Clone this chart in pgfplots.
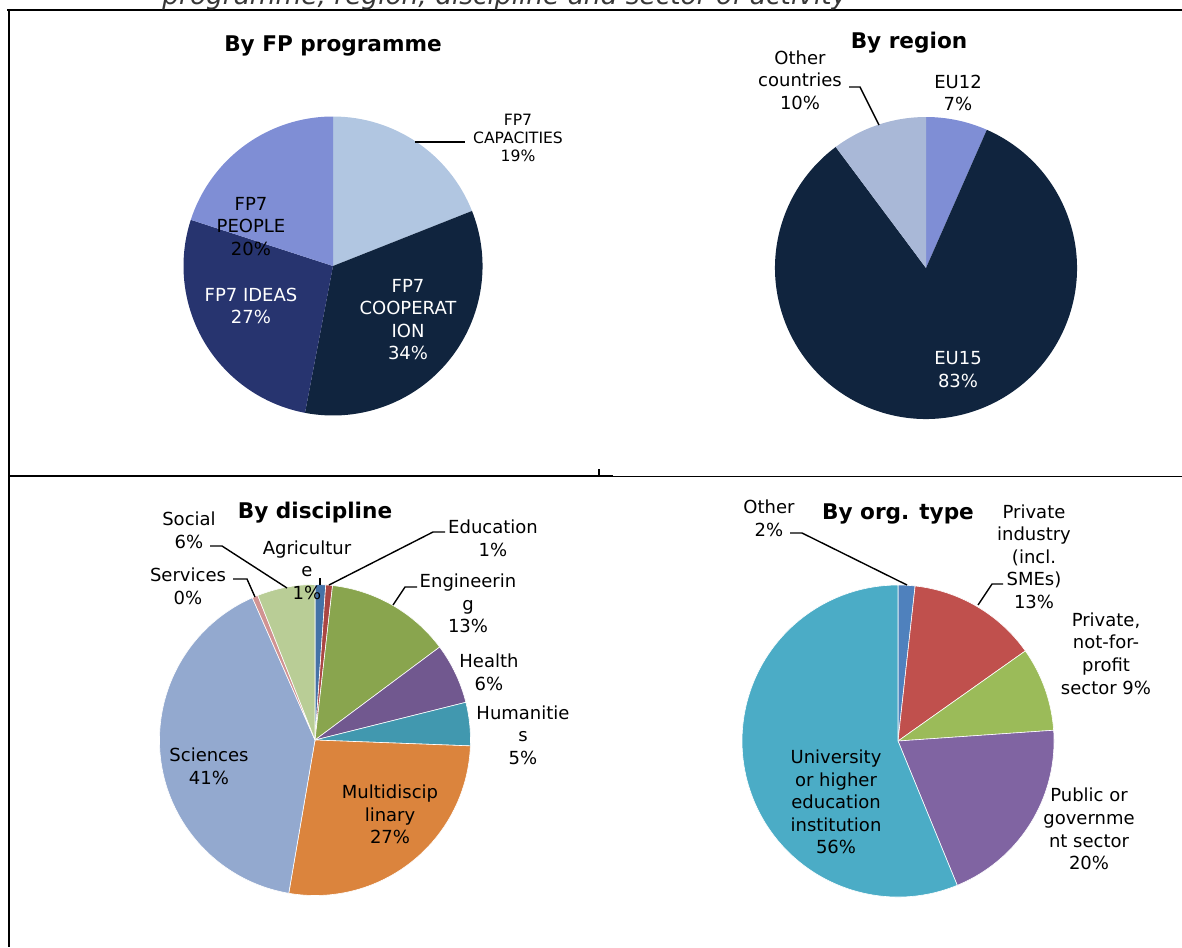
\documentclass[border=0pt]{standalone}
\usepackage{fontspec}
\setmainfont{DejaVu Sans}
\usepackage{pgfplots}
\pgfplotsset{compat=1.18}

% slice colours
\definecolor{capc}{HTML}{B1C6E1}
\definecolor{coopc}{HTML}{10243E}
\definecolor{ideac}{HTML}{27346F}
\definecolor{peopc}{HTML}{7F8ED5}
\definecolor{othc}{HTML}{A9B8D7}
\definecolor{agric}{HTML}{4572A7}
\definecolor{educ}{HTML}{AA4643}
\definecolor{engc}{HTML}{89A54E}
\definecolor{healc}{HTML}{71588F}
\definecolor{humc}{HTML}{4198AF}
\definecolor{multc}{HTML}{DB843D}
\definecolor{scic}{HTML}{93A9CF}
\definecolor{servc}{HTML}{D19392}
\definecolor{socc}{HTML}{B9CD96}
\definecolor{o1}{HTML}{4F81BD}
\definecolor{o2}{HTML}{C0504D}
\definecolor{o3}{HTML}{9BBB59}
\definecolor{o4}{HTML}{8064A2}
\definecolor{o5}{HTML}{4BACC6}

\pgfplotsset{pieaxis/.style={hide axis, scale only axis, anchor=center,
  xmin=-1, xmax=1, ymin=-1, ymax=1, clip=false}}

% #1 extra style, #2 radius in pt, #3 list of percent/colour, clockwise from 12 o'clock
\newcommand\pieslices[3][draw=none]{%
  \gdef\cum{0}%
  \foreach \v/\c in {#3}{%
    \pgfmathsetmacro\a{90-3.6*\cum}%
    \pgfmathsetmacro\b{90-3.6*(\cum+\v)}%
    \pgfmathsetmacro\xa{cos(\a)}%
    \pgfmathsetmacro\ya{sin(\a)}%
    \edef\tmp{\noexpand\addplot[fill=\c,#1] coordinates {(0,0) (\xa,\ya)}
      arc[start angle=\a,end angle=\b,radius=#2pt] -- cycle;}%
    \tmp
    \pgfmathsetmacro\n{\cum+\v}\xdef\cum{\n}%
  }%
}

\tikzset{lab/.style={align=center, inner sep=0pt, font=\fontsize{9}{11.3}\selectfont},
  ttl/.style={inner sep=0pt, font=\fontsize{10.8}{13}\selectfont\bfseries},
  lead/.style={line width=0.7pt}}

\begin{document}
\begin{tikzpicture}[x=0.5pt,y=-0.5pt]
\useasboundingbox (0,0) rectangle (1182,947);

% By FP programme
\begin{axis}[pieaxis, at={(166.5pt,-133pt)}, width=149.5pt, height=149.5pt]
\pieslices{74.75}{19/capc, 34/coopc, 27/ideac, 20/peopc}
\end{axis}

% By region
\begin{axis}[pieaxis, at={(463pt,-134pt)}, width=151pt, height=151pt]
\pieslices{75.5}{6.6/peopc, 83.2/coopc, 10.2/othc}
\end{axis}

% By discipline
\begin{axis}[pieaxis, at={(157.5pt,-370pt)}, width=155.5pt, height=155.5pt]
\pieslices[draw=white, line width=0.3pt]{77.75}{1.1/agric, 0.7/educ, 13/engc, 6.3/healc,
  4.5/humc, 27.1/multc, 40.7/scic, 0.6/servc, 6/socc}
\end{axis}

% By org. type
\begin{axis}[pieaxis, at={(449pt,-370.5pt)}, width=156pt, height=156pt]
\pieslices[draw=white, line width=0.3pt]{78}{1.75/o1, 13.45/o2, 8.7/o3, 19.9/o4, 56.2/o5}
\end{axis}

% titles
\node[ttl] at (333,46) {By FP programme};
\node[ttl] at (909,43) {By region};
\node[ttl] at (315,513) {By discipline};
\node[ttl] at (898,514) {By org. type};

% FP programme labels
\node[lab, font=\fontsize{7.8}{9}\selectfont] at (518,138) {FP7\\CAPACITIES\\19\%};
\node[lab] at (251,226.5) {FP7\\PEOPLE\\20\%};
\node[lab, text=white] at (251,306) {FP7 IDEAS\\27\%};
\node[lab, text=white] at (408,319.5) {FP7\\COOPERAT\\ION\\34\%};
\draw[lead] (415,142) -- (465,142);

% region labels
\node[lab] at (800,80) {Other\\countries\\10\%};
\node[lab] at (958,93) {EU12\\7\%};
\node[lab, text=white] at (958,369.5) {EU15\\83\%};
\draw[lead] (849,87) -- (860,87) -- (879,125);

% discipline labels
\node[lab] at (189,530.5) {Social\\6\%};
\node[lab] at (307,570) {Agricultur\\e\\1\%};
\node[lab] at (188,586) {Services\\0\%};
\node[lab] at (493,538) {Education\\1\%};
\node[lab] at (468,603.5) {Engineerin\\g\\13\%};
\node[lab] at (489,672) {Health\\6\%};
\node[lab] at (523,735) {Humanitie\\s\\5\%};
\node[lab] at (209,766) {Sciences\\41\%};
\node[lab] at (390,814.5) {Multidiscip\\linary\\27\%};
\draw[lead] (210,546) -- (222,546) -- (287,588);
\draw[lead] (233,579) -- (247,579) -- (255,597);
\draw[lead] (320,578) -- (320,585);
\draw[lead] (445,532) -- (433,532) -- (329,585);
\draw[lead] (417,587) -- (405,587) -- (393,605);

% org. type labels
\node[lab] at (769,518) {Other\\2\%};
\node[lab] at (1034,556.5) {Private\\industry\\(incl.\\SMEs)\\13\%};
\node[lab] at (1106,653.5) {Private,\\not-for-\\profit\\sector 9\%};
\node[lab] at (836,802) {University\\or higher\\education\\institution\\56\%};
\node[lab] at (1089,829) {Public or\\governme\\nt sector\\20\%};
\draw[lead] (790,533) -- (802,533) -- (907,585);
\draw[lead] (1003,584) -- (992,584) -- (978,605);

% table rules
\draw[line width=1pt] (7,10) -- (1182,10);
\draw[line width=1pt] (9,9) -- (9,947);
\draw[line width=1pt] (8,476) -- (613,476);
\draw[line width=0.65pt] (613,476.3) -- (1182,476.3);
\draw[line width=0.85pt] (599,469) -- (599,476);

% caption cut at the top of the page, as in the source
\node[anchor=base west, inner sep=0pt, text=black!78,
  font=\fontsize{13.2}{15}\selectfont\itshape] at (162,5)
  {programme, region, discipline and sector of activity};
\end{tikzpicture}
\end{document}
